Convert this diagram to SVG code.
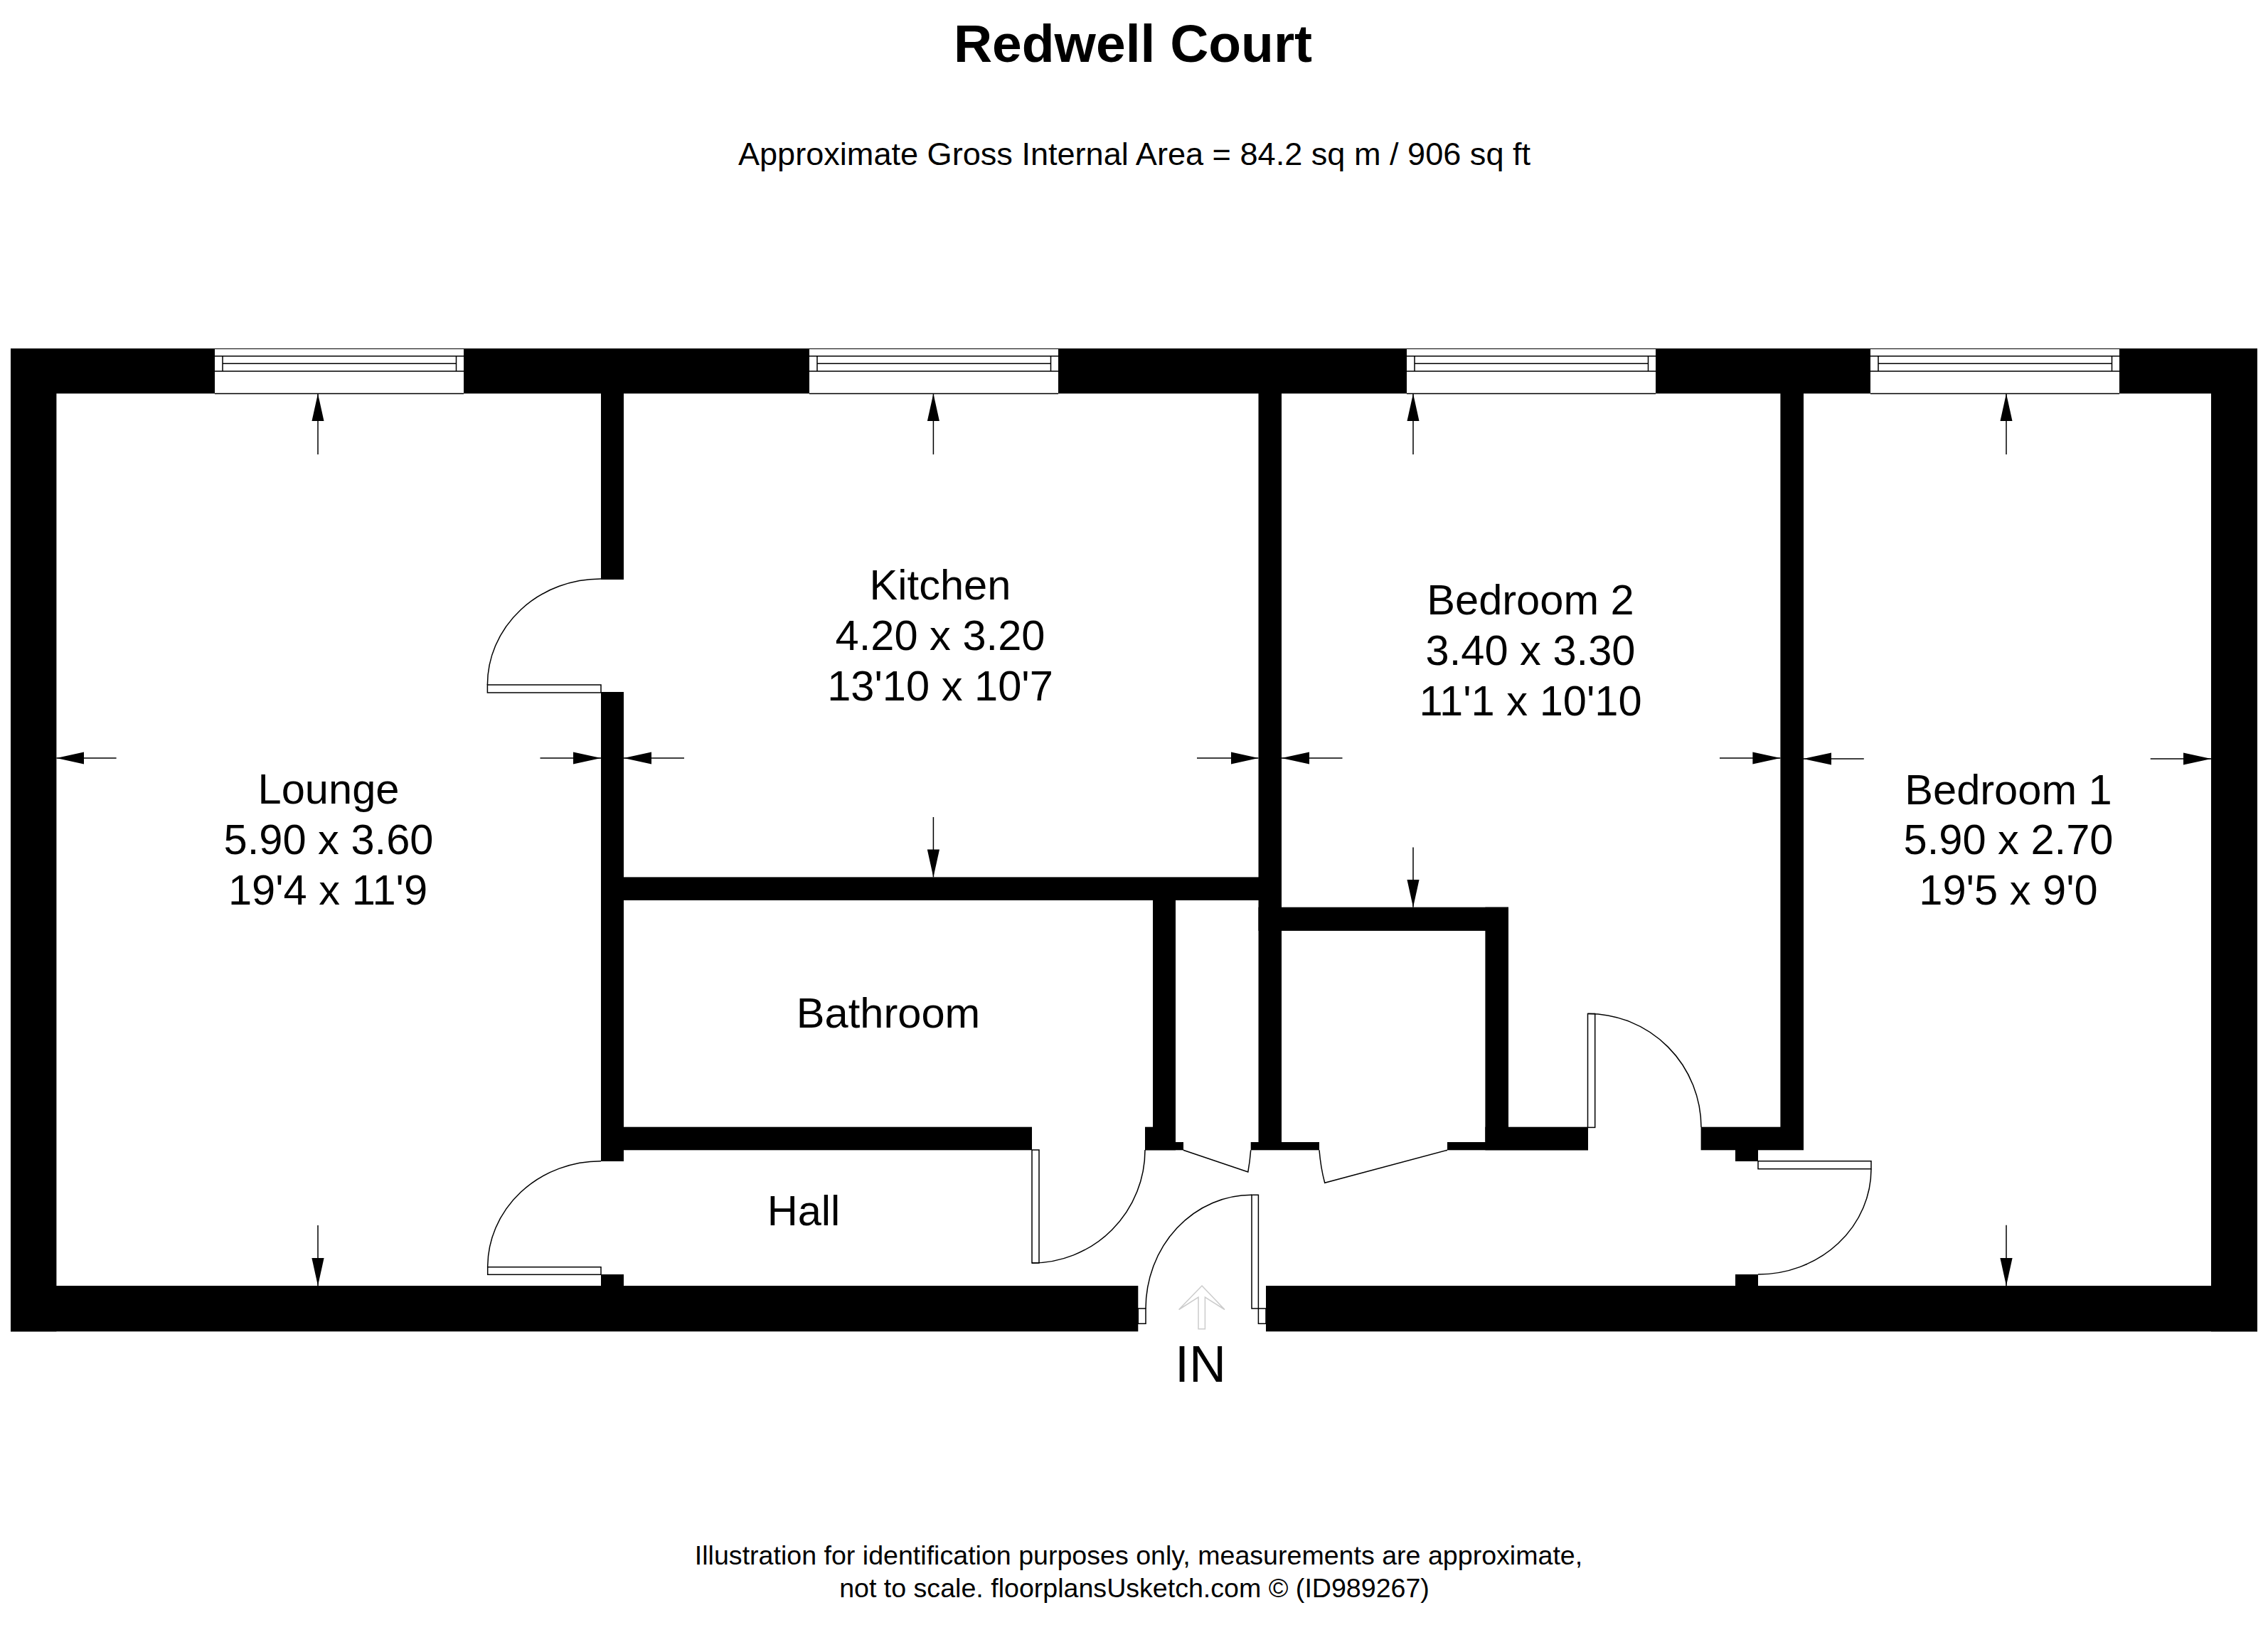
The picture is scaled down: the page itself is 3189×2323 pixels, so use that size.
<svg xmlns="http://www.w3.org/2000/svg" xmlns:xlink="http://www.w3.org/1999/xlink" width="3189" height="2323" viewBox="0 0 3189 2323">
<style>
text{font-family:"Liberation Sans",Arial,sans-serif;fill:#000;text-anchor:middle}
.room{font-size:59.6px}
.foot{font-size:37.6px}
.wall{fill:#000;stroke:none}
.thin{fill:#fff;stroke:#000;stroke-width:1.5}
.arc{fill:none;stroke:#000;stroke-width:1.5}
.dim{stroke:#000;stroke-width:1.5;fill:none;marker-end:url(#head)}
</style>
<defs>
<marker id="head" markerUnits="userSpaceOnUse" markerWidth="40" markerHeight="20" refX="39" refY="10" orient="auto"><path d="M0 1.4L39 10L0 18.6Z" fill="#000"/></marker>
<g id="window">
<rect x="0" y="491" width="350" height="62.4" fill="#fff"/>
<path d="M0 553.4H350M0 500.7H350M0 522H350M11 500.7V522M339.500 500.7V522M11 511.300H339.500" class="arc"/>
</g>
</defs>
<rect width="3189" height="2323" fill="#fff"/>
<g id="walls" class="wall">
<rect x="15" y="490" width="3159" height="63.400"/>
<rect x="15" y="490" width="64.400" height="1382.300"/>
<rect x="3109" y="490" width="65" height="1382.300"/>
<rect x="15" y="1808" width="1585.300" height="64.300"/>
<rect x="1780" y="1808" width="1394" height="64.300"/>
<rect x="845" y="553" width="32" height="262"/>
<rect x="845" y="973" width="32" height="660"/>
<rect x="845" y="1584.700" width="606" height="32.600"/>
<rect x="845" y="1792" width="32" height="16"/>
<rect x="877" y="1233.400" width="925" height="32.600"/>
<rect x="1621" y="1266" width="32" height="340"/>
<rect x="1610" y="1584.700" width="43" height="32.600"/>
<rect x="1610" y="1606" width="54" height="11.300"/>
<rect x="1769.500" y="553" width="32.500" height="1064"/>
<rect x="1758.700" y="1606" width="96.300" height="11.300"/>
<rect x="1769.500" y="1275.700" width="351.500" height="33.200"/>
<rect x="2088.400" y="1275.700" width="32.600" height="330"/>
<rect x="2088.400" y="1584.700" width="144.600" height="32.600"/>
<rect x="2035" y="1606" width="198" height="11.300"/>
<rect x="2503.400" y="553" width="32.600" height="1064"/>
<rect x="2391.600" y="1584.700" width="144.400" height="32.600"/>
<rect x="2440" y="1617" width="32" height="16"/>
<rect x="2440" y="1792" width="32" height="16"/>
</g>
<g id="windows">
<use xlink:href="#window" href="#window" x="302"/>
<use xlink:href="#window" href="#window" x="1138"/>
<use xlink:href="#window" href="#window" x="1978"/>
<use xlink:href="#window" href="#window" x="2630"/>
</g>
<g id="doors">
<g id="door-kitchen"><rect class="thin" x="685.400" y="963" width="159.600" height="11"/><path class="arc" d="M685.400 963A159 149 0 0 1 845 814"/></g>
<g id="door-lounge"><rect class="thin" x="685.700" y="1781.700" width="159.300" height="10.600"/><path class="arc" d="M685.700 1781.700A159 149 0 0 1 845 1632.700"/></g>
<g id="door-bathroom"><rect class="thin" x="1451" y="1617" width="10" height="159"/><path class="arc" d="M1451 1776A159 159 0 0 0 1610 1617"/></g>
<g id="door-bedroom2"><rect class="thin" x="2232.500" y="1425.400" width="10.200" height="160"/><path class="arc" d="M2233 1425.400A159 160 0 0 1 2392 1585"/></g>
<g id="door-bedroom1"><rect class="thin" x="2472" y="1632.700" width="159" height="11"/><path class="arc" d="M2631 1643.700A159 148 0 0 1 2472 1792"/></g>
<g id="door-entrance">
<rect class="thin" x="1600.300" y="1840" width="10.700" height="21.300"/>
<rect class="thin" x="1769.400" y="1840" width="10.600" height="21.300"/>
<rect class="thin" x="1760" y="1680.300" width="9.400" height="159.700"/>
<path class="arc" d="M1611 1840A149 160 0 0 1 1760 1680.300"/>
</g>
<g id="door-cupboard-1"><path class="arc" d="M1663.800 1617.300L1754.800 1648Q1757.500 1633 1758.700 1617.300"/></g>
<g id="door-cupboard-2"><path class="arc" d="M1855 1617.300Q1857 1642 1862.700 1663.300L2035 1617.300"/></g>
</g>
<g id="connectors">
<path class="dim" d="M447 639V553.400"/>
<path class="dim" d="M1312.400 639V553.400"/>
<path class="dim" d="M1987 639V553.400"/>
<path class="dim" d="M2821 639V553.400"/>
<path class="dim" d="M447 1723V1808"/>
<path class="dim" d="M1312.400 1149V1233.400"/>
<path class="dim" d="M1987 1191.500V1275.700"/>
<path class="dim" d="M2821 1722.700V1808"/>
<path class="dim" d="M163.600 1066H79.400"/>
<path class="dim" d="M759.500 1066H845"/>
<path class="dim" d="M962 1066H877"/>
<path class="dim" d="M1683 1066H1769.500"/>
<path class="dim" d="M1887.500 1066H1802"/>
<path class="dim" d="M2418 1066H2503.400"/>
<path class="dim" d="M2620.800 1067H2536"/>
<path class="dim" d="M3023.700 1067H3109"/>
<path id="entry-arrow" d="M1690 1808L1722 1841.500L1694.400 1824V1868.700H1685V1824L1657.600 1841.500Z" fill="#fff" stroke="#ccc" stroke-width="1.500"/>
</g>
<g id="title">
<text x="1593" y="87.300" font-weight="bold" font-size="75px">Redwell Court</text>
<text x="1595" y="231.700" font-size="45.100px">Approximate Gross Internal Area = 84.2 sq m / 906 sq ft</text>
</g>
<g id="room-lounge"><text class="room" x="462" y="1130">Lounge</text><text class="room" x="462" y="1201">5.90 x 3.60</text><text class="room" x="461" y="1272">19'4 x 11'9</text></g>
<g id="room-kitchen"><text class="room" x="1322" y="843.300">Kitchen</text><text class="room" x="1322" y="914.300">4.20 x 3.20</text><text class="room" x="1322" y="985">13'10 x 10'7</text></g>
<g id="room-bedroom2"><text class="room" x="2152" y="863.700">Bedroom 2</text><text class="room" x="2152" y="934.700">3.40 x 3.30</text><text class="room" x="2152" y="1005.500">11'1 x 10'10</text></g>
<g id="room-bedroom1"><text class="room" x="2824" y="1130.700">Bedroom 1</text><text class="room" x="2824" y="1201">5.90 x 2.70</text><text class="room" x="2824" y="1272.300">19'5 x 9'0</text></g>
<g id="room-bathroom"><text class="room" x="1249" y="1445">Bathroom</text></g>
<g id="room-hall"><text class="room" x="1130" y="1723.300">Hall</text></g>
<text id="entry-label" x="1688" y="1943" font-size="72px">IN</text>
<g id="footer">
<text class="foot" x="1601" y="2200">Illustration for identification purposes only, measurements are approximate,</text>
<text class="foot" x="1595" y="2246">not to scale. floorplansUsketch.com © (ID989267)</text>
</g>
</svg>
